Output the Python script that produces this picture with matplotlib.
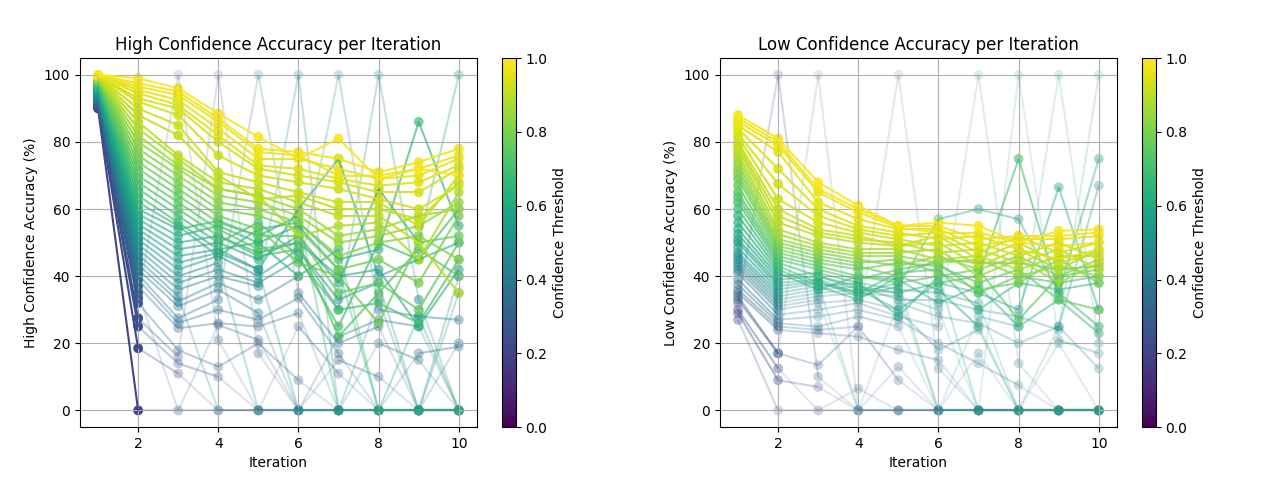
import numpy as np
import matplotlib.pyplot as plt
from matplotlib.collections import LineCollection
from matplotlib.colors import Normalize
from matplotlib.cm import ScalarMappable

# --- Data ---
iterations = [1, 2, 3, 4, 5, 6, 7, 8, 9, 10]

thresholds = [0.20, 0.22, 0.24, 0.26, 0.28, 0.30, 0.32, 0.34, 0.36, 0.38,
              0.40, 0.42, 0.44, 0.46, 0.48, 0.50, 0.52, 0.54, 0.56, 0.58,
              0.60, 0.62, 0.64, 0.66, 0.68, 0.70, 0.72, 0.74, 0.76, 0.78,
              0.80, 0.82, 0.84, 0.86, 0.88, 0.90, 0.91, 0.92, 0.93, 0.94,
              0.95, 0.96, 0.97, 0.98, 0.99]

# high confidence accuracy (%), one row per threshold
high_acc = [
    [90.0, 0.0, 0.0, 0.0, 0.0, 0.0, 0.0, 0.0, 0.0, 0.0],
    [90.3, 18.5, 11.0, 0.0, 0.0, 0.0, 0.0, 0.0, 0.0, 0.0],
    [90.6, 25.0, 14.0, 10.0, 0.0, 0.0, 0.0, 0.0, 0.0, 0.0],
    [90.9, 27.5, 16.0, 100.0, 17.0, 0.0, 0.0, 0.0, 0.0, 0.0],
    [91.2, 32.0, 18.0, 13.0, 20.0, 9.0, 0.0, 0.0, 0.0, 0.0],
    [91.5, 33.5, 100.0, 21.0, 0.0, 25.0, 11.0, 0.0, 0.0, 0.0],
    [91.8, 35.0, 0.0, 25.5, 21.0, 0.0, 15.0, 10.0, 0.0, 0.0],
    [92.1, 37.0, 24.5, 26.0, 25.0, 29.0, 0.0, 20.0, 15.0, 0.0],
    [92.4, 39.0, 26.0, 30.0, 27.0, 33.5, 17.0, 0.0, 17.0, 19.0],
    [92.7, 40.5, 27.5, 33.0, 100.0, 35.0, 20.0, 25.0, 0.0, 20.0],
    [93.0, 42.0, 31.0, 36.0, 29.0, 0.0, 22.0, 27.0, 25.0, 0.0],
    [93.3, 43.5, 32.5, 38.0, 33.0, 40.0, 100.0, 30.0, 28.0, 27.0],
    [93.6, 45.0, 34.0, 0.0, 0.0, 0.0, 0.0, 0.0, 0.0, 0.0],
    [93.9, 46.5, 36.0, 40.0, 37.0, 100.0, 0.0, 33.0, 0.0, 35.0],
    [94.2, 48.0, 38.0, 42.0, 38.0, 45.0, 30.0, 100.0, 33.0, 0.0],
    [94.5, 49.5, 40.0, 44.0, 0.0, 0.0, 0.0, 0.0, 0.0, 0.0],
    [94.8, 51.0, 42.0, 46.0, 40.0, 48.0, 33.0, 38.0, 0.0, 40.0],
    [95.1, 52.5, 44.0, 47.0, 42.0, 0.0, 0.0, 0.0, 0.0, 0.0],
    [95.4, 54.0, 46.0, 48.0, 42.0, 60.0, 75.0, 40.0, 45.0, 50.0],
    [95.7, 55.5, 48.0, 50.0, 45.0, 52.0, 38.0, 66.0, 50.0, 100.0],
    [96.0, 57.0, 50.0, 52.0, 47.0, 50.0, 40.0, 42.0, 25.0, 42.0],
    [96.3, 58.5, 52.0, 55.0, 50.0, 55.0, 42.0, 0.0, 28.0, 0.0],
    [96.6, 60.0, 54.0, 56.5, 52.0, 58.0, 0.0, 0.0, 0.0, 0.0],
    [96.9, 62.0, 55.0, 46.0, 54.0, 56.0, 45.0, 48.0, 86.0, 55.0],
    [97.2, 64.0, 56.0, 48.0, 50.0, 40.0, 48.0, 0.0, 0.0, 0.0],
    [97.5, 66.0, 58.0, 50.0, 56.0, 46.0, 25.0, 50.0, 45.0, 60.0],
    [97.7, 68.0, 60.0, 52.0, 46.0, 48.0, 30.0, 32.0, 26.0, 45.0],
    [98.0, 70.0, 62.0, 54.0, 48.0, 50.0, 22.0, 35.0, 48.0, 40.0],
    [98.2, 72.0, 64.0, 56.0, 52.0, 52.0, 35.0, 38.0, 30.0, 50.0],
    [98.4, 74.0, 66.0, 58.0, 54.0, 44.0, 40.0, 26.0, 50.0, 52.0],
    [98.6, 76.0, 68.0, 60.0, 58.0, 54.0, 42.0, 45.0, 38.0, 58.0],
    [98.8, 78.0, 70.0, 62.0, 60.0, 56.0, 46.0, 50.0, 52.0, 45.0],
    [99.0, 80.0, 72.0, 64.0, 62.0, 58.0, 50.0, 52.0, 55.0, 62.0],
    [99.2, 82.0, 73.0, 66.0, 64.0, 60.0, 52.0, 54.0, 58.0, 60.0],
    [99.3, 84.0, 75.0, 66.0, 64.0, 52.0, 55.0, 56.0, 45.0, 65.0],
    [99.4, 86.0, 76.0, 68.0, 66.0, 62.0, 58.0, 58.0, 50.0, 35.0],
    [99.5, 88.0, 82.0, 70.0, 63.0, 64.0, 60.0, 60.0, 57.0, 68.0],
    [99.5, 90.0, 85.0, 71.0, 68.0, 65.0, 62.0, 62.0, 55.0, 70.0],
    [99.6, 92.0, 88.0, 76.0, 70.0, 68.0, 66.0, 63.0, 60.0, 67.0],
    [99.6, 93.0, 90.0, 80.0, 72.0, 70.0, 68.0, 65.0, 65.0, 72.0],
    [99.7, 94.5, 91.0, 82.0, 73.0, 72.0, 69.0, 67.0, 68.0, 73.0],
    [99.8, 95.5, 92.5, 84.0, 75.0, 75.0, 72.0, 69.0, 70.0, 75.0],
    [99.8, 96.5, 94.0, 86.0, 77.0, 76.0, 70.0, 70.0, 72.0, 76.0],
    [99.9, 97.5, 95.0, 87.0, 78.0, 77.0, 75.0, 71.0, 74.0, 78.0],
    [100.0, 99.0, 96.0, 88.5, 81.5, 75.0, 81.0, 69.0, 72.0, 70.0],
]

# low confidence accuracy (%), one row per threshold
low_acc = [
    [27.0, 0.0, 0.0, 0.0, 0.0, 0.0, 0.0, 0.0, 0.0, 0.0],
    [29.0, 9.0, 7.0, 0.0, 0.0, 0.0, 0.0, 0.0, 0.0, 0.0],
    [30.0, 12.5, 0.0, 6.5, 0.0, 0.0, 0.0, 0.0, 0.0, 0.0],
    [32.0, 100.0, 10.0, 0.0, 0.0, 0.0, 0.0, 0.0, 0.0, 0.0],
    [33.0, 17.0, 13.5, 25.0, 9.0, 0.0, 0.0, 0.0, 0.0, 0.0],
    [34.0, 17.0, 100.0, 0.0, 13.0, 0.0, 0.0, 0.0, 0.0, 0.0],
    [35.0, 24.0, 23.0, 22.0, 18.0, 15.0, 0.0, 0.0, 0.0, 0.0],
    [36.0, 25.0, 24.0, 25.0, 100.0, 12.5, 0.0, 0.0, 0.0, 0.0],
    [37.5, 26.0, 25.0, 28.0, 25.0, 0.0, 17.0, 0.0, 0.0, 0.0],
    [39.0, 27.0, 28.0, 30.0, 27.0, 20.0, 14.0, 7.5, 0.0, 0.0],
    [41.0, 28.5, 30.0, 32.0, 28.0, 25.0, 100.0, 14.0, 0.0, 0.0],
    [42.0, 30.0, 32.0, 33.0, 30.0, 18.0, 24.0, 0.0, 20.0, 0.0],
    [43.0, 31.0, 33.0, 0.0, 32.0, 28.0, 26.0, 20.0, 25.0, 12.5],
    [44.0, 32.0, 34.0, 35.0, 34.0, 30.0, 0.0, 100.0, 21.0, 17.0],
    [45.0, 33.0, 35.0, 36.0, 35.0, 0.0, 28.0, 25.0, 100.0, 20.0],
    [46.0, 34.0, 36.0, 37.0, 33.0, 33.0, 30.0, 28.0, 24.0, 100.0],
    [47.0, 35.0, 37.0, 38.0, 36.0, 35.0, 32.0, 0.0, 25.0, 67.0],
    [48.5, 36.0, 38.0, 0.0, 0.0, 0.0, 0.0, 0.0, 0.0, 0.0],
    [50.0, 37.0, 38.5, 34.0, 37.0, 57.0, 60.0, 57.0, 35.0, 75.0],
    [51.0, 38.0, 39.0, 35.0, 38.0, 0.0, 0.0, 0.0, 0.0, 0.0],
    [52.5, 39.0, 40.0, 36.0, 30.0, 38.0, 35.0, 30.0, 66.5, 30.0],
    [54.0, 40.0, 41.0, 38.0, 28.0, 40.0, 0.0, 0.0, 0.0, 0.0],
    [56.0, 41.0, 36.0, 40.0, 39.0, 32.0, 37.0, 25.0, 33.0, 23.0],
    [58.0, 42.0, 37.0, 33.0, 40.0, 36.0, 25.0, 0.0, 0.0, 0.0],
    [60.0, 43.0, 38.0, 35.0, 41.0, 42.0, 30.0, 38.0, 36.0, 38.0],
    [62.0, 44.0, 40.0, 37.0, 35.0, 38.0, 40.0, 75.0, 35.0, 25.0],
    [63.5, 45.0, 42.0, 39.0, 42.0, 44.0, 35.0, 40.0, 38.0, 40.0],
    [65.0, 46.0, 43.0, 40.0, 38.0, 40.0, 42.0, 27.0, 40.0, 42.0],
    [67.0, 47.0, 44.0, 42.0, 44.0, 43.0, 38.0, 42.0, 33.0, 30.0],
    [69.0, 48.0, 45.0, 43.0, 40.0, 45.0, 44.0, 44.0, 42.0, 43.0],
    [70.5, 49.0, 46.0, 44.0, 45.0, 41.0, 36.0, 38.0, 45.0, 38.0],
    [72.0, 50.0, 47.0, 45.0, 43.0, 46.0, 42.0, 46.0, 40.0, 45.0],
    [73.5, 51.0, 48.0, 46.0, 46.0, 44.0, 45.0, 40.0, 43.0, 40.0],
    [75.0, 52.5, 49.0, 47.0, 47.0, 48.0, 40.0, 45.0, 38.0, 44.0],
    [76.5, 54.0, 50.0, 48.0, 48.0, 45.0, 46.0, 42.0, 46.0, 46.0],
    [78.0, 56.0, 52.0, 50.0, 49.0, 50.0, 43.0, 48.0, 42.0, 48.0],
    [79.0, 58.0, 53.0, 51.0, 50.0, 47.0, 48.0, 44.0, 48.0, 42.0],
    [80.0, 60.0, 54.0, 52.0, 49.0, 52.0, 45.0, 50.0, 44.0, 47.0],
    [81.5, 63.0, 56.0, 53.0, 51.0, 49.0, 50.0, 46.0, 50.0, 45.0],
    [82.5, 67.5, 58.0, 54.0, 52.0, 53.0, 47.0, 52.0, 47.0, 50.0],
    [84.0, 72.0, 60.0, 55.0, 53.0, 51.0, 52.0, 48.0, 45.0, 48.0],
    [85.0, 77.0, 62.0, 57.0, 54.0, 54.0, 49.0, 51.0, 51.0, 52.0],
    [86.0, 79.0, 65.0, 59.0, 54.5, 53.0, 53.0, 50.0, 49.0, 50.0],
    [87.0, 80.0, 66.0, 60.0, 55.0, 55.0, 51.0, 52.0, 52.0, 53.0],
    [88.0, 81.0, 68.0, 61.0, 55.0, 56.0, 55.0, 50.0, 53.5, 54.0],
]

cmap = plt.get_cmap('viridis')
norm = Normalize(vmin=0.0, vmax=1.0)


def point_alpha(panel, t, k, v):
    """Opacity of one point: fades for mid thresholds at later iterations."""
    if panel == 'high':
        if k <= 2:
            a = 1.0
        else:
            a = np.clip(0.4 + 0.5 * (t - 0.4) / 0.5, 0.3, 0.9)
        extreme_from = 3
    else:
        if k <= 2:
            a = np.clip(0.45 + 0.5 * (t - 0.4) / 0.5, 0.4, 0.95)
        else:
            a = np.clip(0.3 + 0.6 * (t - 0.5) / 0.45, 0.25, 0.9)
        extreme_from = 2
    # extreme values come from very few samples -> faint
    if k >= extreme_from and (v <= 0.0 or v >= 100.0) and t < 0.9:
        a *= 0.55
    return a


def draw_panel(ax, data, panel):
    for t, vals in zip(thresholds, data):
        rgb = cmap(norm(t))[:3]
        alphas = [point_alpha(panel, t, k, v) for k, v in zip(iterations, vals)]
        segs = [[(iterations[i], vals[i]), (iterations[i + 1], vals[i + 1])]
                for i in range(len(iterations) - 1)]
        seg_cols = [(*rgb, min(alphas[i], alphas[i + 1])) for i in range(len(segs))]
        ax.add_collection(LineCollection(segs, colors=seg_cols, linewidths=1.5))
        ax.scatter(iterations, vals, c=[(*rgb, a) for a in alphas], s=50,
                   edgecolors='none')


# --- Figure Layout ---
fig = plt.figure(figsize=(12.8, 4.8), dpi=100)
ax_hi = fig.add_axes([0.0625, 0.110, 0.310, 0.769])
cax_hi = fig.add_axes([0.392, 0.110, 0.011, 0.769])
ax_lo = fig.add_axes([0.5625, 0.110, 0.310, 0.769])
cax_lo = fig.add_axes([0.892, 0.110, 0.011, 0.769])

draw_panel(ax_hi, high_acc, 'high')
draw_panel(ax_lo, low_acc, 'low')

for ax, title, ylabel in [
        (ax_hi, "High Confidence Accuracy per Iteration", "High Confidence Accuracy (%)"),
        (ax_lo, "Low Confidence Accuracy per Iteration", "Low Confidence Accuracy (%)")]:
    ax.set_title(title, fontsize=12)
    ax.set_xlabel("Iteration")
    ax.set_ylabel(ylabel)
    ax.set_xlim(0.55, 10.45)
    ax.set_ylim(-5, 105)
    ax.set_xticks([2, 4, 6, 8, 10])
    ax.set_yticks([0, 20, 40, 60, 80, 100])
    ax.grid(True)

sm = ScalarMappable(norm=norm, cmap=cmap)
fig.colorbar(sm, cax=cax_hi, label="Confidence Threshold")
fig.colorbar(sm, cax=cax_lo, label="Confidence Threshold")

fig.savefig("out.png", dpi=100)
